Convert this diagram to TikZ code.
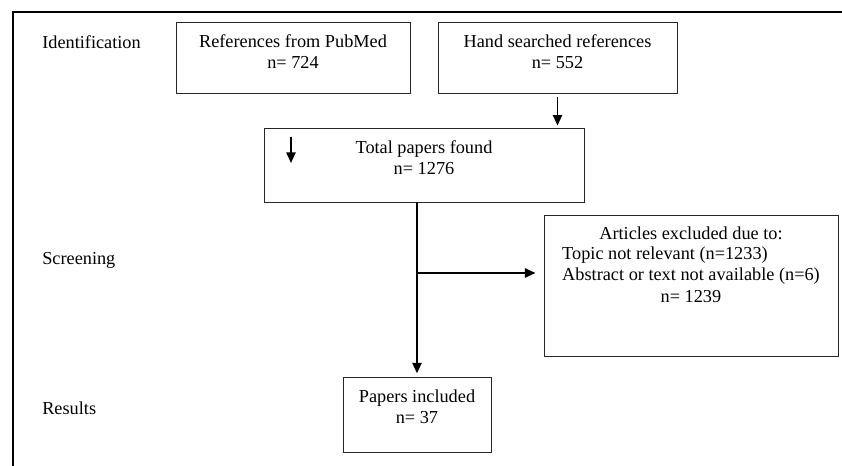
\documentclass[tikz,border=0pt]{standalone}
\usepackage{fontspec}
\setmainfont{Liberation Serif}
\usetikzlibrary{positioning,arrows.meta}
\tikzset{
	box/.style={draw=black!85,line width=0.6pt,inner sep=0pt},
	boxtext/.style={align=center,inner sep=0pt,font=\fontsize{13}{14.5}\selectfont},
	stage/.style={anchor=west,inner sep=0pt,font=\fontsize{13}{14.5}\selectfont},
	flow/.style={line width=1.4pt,->},
}
\begin{document}
\begin{tikzpicture}[x=0.025cm,y=-0.025cm,>={Triangle[length=7.5pt,width=6.5pt]}]
				\useasboundingbox (0,0) rectangle (842,466);
				\draw[line width=1pt] (13,466)--(13,12)--(842,12);
				% stages
				\node[stage] (ident) at (42,42) {Identification};
				\node[stage] (screen) at (42,260) {Screening};
				\node[stage] (result) at (42,408) {Results};
				% boxes
				\node[box,minimum width=5.85cm,minimum height=1.775cm] (pubmed) at (293,57.5) {};
				\node[box,minimum width=5.975cm,minimum height=1.775cm] (hand) at (557.5,57.5) {};
				\node[box,minimum width=8cm,minimum height=1.85cm] (total) at (424,165) {};
				\node[box,minimum width=7.35cm,minimum height=3.525cm] (excl) at (691,285.5) {};
				\node[box,minimum width=3.7cm,minimum height=1.875cm] (incl) at (417,414.5) {};
				% texts
				\node[boxtext,below=0.33cm of pubmed.north] (pubmedtxt) {References from PubMed\\n= 724};
				\node[boxtext,below=0.33cm of hand.north] (handtxt) {Hand searched references\\n= 552};
				\node[boxtext,below=0.33cm of total.north] (totaltxt) {Total papers found\\n= 1276};
				\node[boxtext,below=0.3cm of excl.north] (excltxt) {Articles excluded due to:\\
					\begin{tabular}[t]{@{}l@{}}Topic not relevant (n=1233)\\Abstract or text not available (n=6)\end{tabular}\\[2pt]
					n= 1239};
				\node[boxtext,below=0.33cm of incl.north] (incltxt) {Papers included\\n= 37};
				% arrows
				\coordinate (stray top) at (291,137);
				\coordinate (stray end) at (291,163);
				\coordinate (split) at (417,273);
				\draw[flow,shorten <=0.1cm,shorten >=0.05cm] (hand.south)--(hand.south |- total.north);
				\draw[flow] (stray top)--(stray end);
				\draw[flow,shorten >=0.08cm] (incl.north |- total.south)--(incl.north);
				\draw[flow,shorten >=0.2cm] (split)--(split -| excl.west);
			\end{tikzpicture}
\end{document}
